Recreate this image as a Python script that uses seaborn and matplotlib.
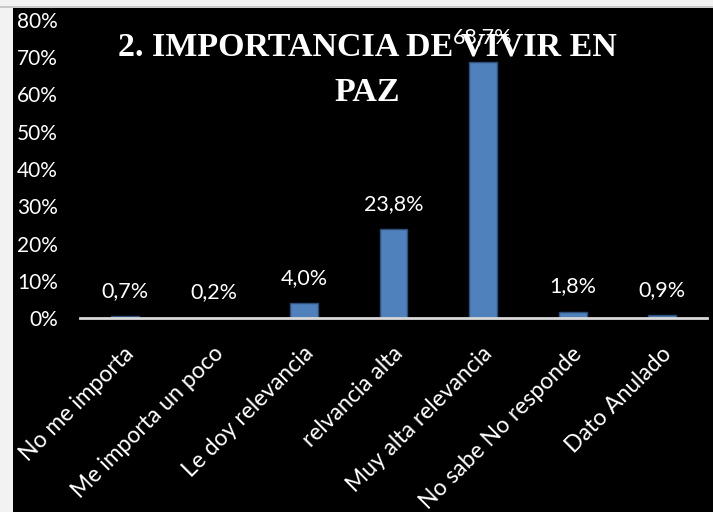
import matplotlib
matplotlib.use("Agg")
import matplotlib.pyplot as plt
import matplotlib.ticker as mticker
from matplotlib.patches import Rectangle
from matplotlib.transforms import ScaledTranslation
import seaborn as sns

# data
categories = ["No me importa", "Me importa un poco", "Le doy relevancia",
              "relvancia alta", "Muy alta relevancia", "No sabe No responde",
              "Dato Anulado"]
values = [0.7, 0.2, 4.0, 23.8, 68.7, 1.8, 0.9]   # percent
y_ticks = [0, 10, 20, 30, 40, 50, 60, 70, 80]
title = "2. IMPORTANCIA DE VIVIR EN\nPAZ"

sns.set_style("dark", {"axes.facecolor": "black", "figure.facecolor": "#F2F2F2"})
plt.rcParams["font.family"] = ["Lato", "DejaVu Sans"]

W, H = 713, 512
fig = plt.figure(figsize=(W / 100, H / 100), dpi=100)

# black panel of the chart area (light strip left and top)
fig.patches.append(Rectangle((13 / W, 0), 1, (H - 7) / H, transform=fig.transFigure,
                             facecolor="black", edgecolor="none", zorder=-5))
fig.patches.append(Rectangle((0, (H - 7.5) / H), 1, 1.2 / H, transform=fig.transFigure,
                             facecolor="#C8C8C8", edgecolor="none", zorder=-4))

ax = fig.add_axes([80 / W, (H - 318.3) / H, 627 / W, 298.6 / H])
ax.set_facecolor("black")

frac = [v / 100 for v in values]
sns.barplot(x=categories, y=frac, color="#4F81BD", edgecolor="#2F4F7A",
            linewidth=1, width=0.31, saturation=1, ax=ax)

ax.set_xlim(-0.5, len(categories) - 0.5)
ax.set_ylim(0, 0.8)
ax.set_yticks([t / 100 for t in y_ticks])
ax.yaxis.set_major_formatter(mticker.FuncFormatter(lambda v, p: f"{v * 100:.0f}%"))
ax.grid(False)
for s in ["top", "right", "left"]:
    ax.spines[s].set_visible(False)
ax.spines["bottom"].set_color("#D9D9D9")
ax.spines["bottom"].set_linewidth(2)
ax.tick_params(axis="y", length=0, pad=16, labelsize=15, labelcolor="white")
ax.tick_params(axis="x", length=0, pad=23, labelsize=16.5, labelcolor="white")

off = ScaledTranslation(6 / 100, 0, fig.dpi_scale_trans)
for lbl in ax.get_xticklabels():
    lbl.set_rotation(45)
    lbl.set_ha("right")
    lbl.set_va("center")
    lbl.set_rotation_mode("anchor")
    lbl.set_transform(lbl.get_transform() + off)

# value labels
for i, v in enumerate(values):
    ax.annotate(f"{v:.1f}%".replace(".", ","), (i, v / 100), xytext=(0, 18),
                textcoords="offset points", ha="center", va="center",
                color="white", fontsize=15.5, annotation_clip=False)

ax.set_xlabel("")
ax.set_ylabel("")

fig.text(367 / W, (H - 32) / H, title, ha="center", va="top", color="white",
         fontsize=24.5, fontweight="bold", family=["Liberation Serif", "DejaVu Serif"],
         linespacing=1.6)

fig.savefig("out.png", dpi=100, facecolor=fig.get_facecolor())
